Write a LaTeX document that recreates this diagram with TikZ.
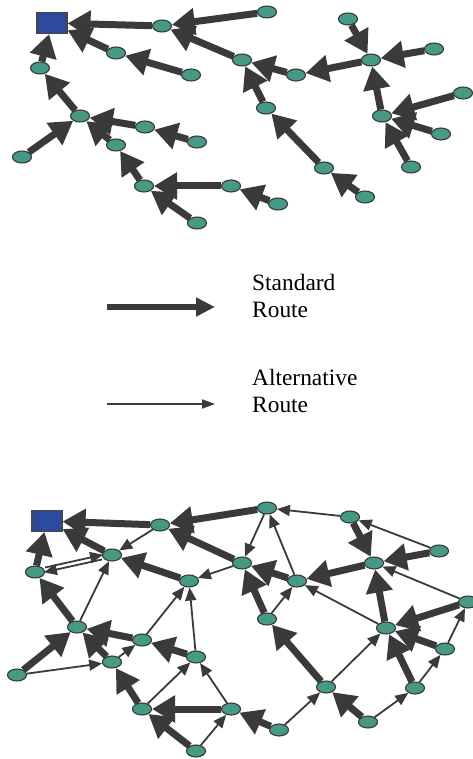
\documentclass[tikz,border=0pt]{standalone}
\usepackage{fontspec}
\setmainfont{Liberation Serif}
\usetikzlibrary{arrows.meta,positioning,shapes.geometric}
\definecolor{sensorteal}{RGB}{69,153,133}
\definecolor{sinkblue}{RGB}{46,74,158}
\definecolor{routegray}{RGB}{58,58,58}

\begin{document}
\begin{tikzpicture}[x=1pt, y=-1pt,
   sensor/.style={ellipse, draw=black!78, line width=1.1pt, fill=sensorteal,
                  minimum width=19pt, minimum height=12pt, inner sep=0pt},
   sink/.style={rectangle, draw=black!72, line width=1.1pt, fill=sinkblue,
                minimum width=30pt, minimum height=21pt, inner sep=0pt},
   std/.style={routegray, line width=7pt, -{Triangle[length=23pt,width=26pt]}},
   alt/.style={routegray, line width=1.8pt, -{Triangle[length=13pt,width=11pt]}},
   legendtxt/.style={align=left, anchor=west, inner sep=0pt,
                     font=\fontsize{23.4}{27.5}\selectfont}]
\useasboundingbox (0,0) rectangle (473,759);

% standard routes only
\node[sink] (p0) at (52,23) {};
\foreach \n/\x/\y in {p1/162/26, p2/267/12, p3/242/60, p4/116/53, p5/191/75,
    p6/40/68, p7/80/116, p8/22/157, p9/145/127, p10/197/142, p11/116/145,
    p12/144/186, p13/231/186, p14/197/223, p15/278/204, p16/296/75,
    p17/266/108, p18/324/168, p19/365/197, p20/348/19, p21/371/60,
    p22/434/49, p23/382/116, p24/463/93, p25/441/134, p26/411/167}
  \node[sensor] (\n) at (\x,\y) {};
\foreach \a/\b in {p1/p0, p2/p1, p3/p1, p4/p0, p5/p4, p6/p0, p7/p6, p8/p7,
    p9/p7, p10/p9, p11/p7, p12/p11, p13/p12, p14/p12, p15/p13, p16/p3,
    p17/p3, p18/p17, p19/p18, p21/p16, p20/p21, p22/p21, p23/p21,
    p24/p23, p25/p23, p26/p23}
  \draw[std] (\a) -- (\b);

% legend
\coordinate (k1) at (107,307);
\coordinate (k2) at (215,307);
\coordinate (k3) at (107,404);
\coordinate (k4) at (215,404);
\draw[routegray, line width=6pt, -{Triangle[length=19pt,width=18pt]}] (k1) -- (k2);
\draw[routegray, line width=1.8pt, -{Triangle[length=13pt,width=9pt]}] (k3) -- (k4);
\node[legendtxt] (t1) at (252,296) {Standard\\Route};
\node[legendtxt] (t2) at (252,391) {Alternative\\Route};

% standard and alternative routes
\node[sink] (q0) at (47,521) {};
\foreach \n/\x/\y in {q1/160/525, q2/112/555, q3/35/572, q4/189/581,
    q5/242/563, q6/77/627, q7/142/640, q8/112/662, q9/17/675, q10/196/657,
    q11/142/709, q12/231/709, q13/196/751, q14/267/508, q15/350/517,
    q16/439/551, q17/374/563, q18/297/581, q19/267/619, q20/468/602,
    q21/386/628, q22/445/649, q23/326/687, q24/415/688, q25/368/722,
    q26/279/730}
  \node[sensor] (\n) at (\x,\y) {};
\foreach \a/\b in {q1/q0, q14/q1, q5/q1, q2/q0, q3/q0, q4/q2, q6/q3, q7/q6,
    q8/q6, q9/q6, q10/q7, q11/q8, q12/q11, q13/q11, q15/q17, q16/q17,
    q17/q18, q18/q5, q19/q5, q21/q17, q20/q21, q22/q21, q24/q21, q23/q19,
    q25/q23, q26/q12}
  \draw[std] (\a) -- (\b);
\foreach \a/\b in {q1/q2, q5/q4, q6/q2, q9/q8, q7/q4, q10/q4, q8/q7, q11/q10,
    q12/q10, q13/q12, q15/q14, q14/q5, q18/q14, q16/q15, q19/q18, q20/q17,
    q21/q18, q22/q20, q24/q22, q23/q21, q25/q24, q26/q23}
  \draw[alt] (\a) -- (\b);
\draw[alt, transform canvas={shift={(0.6pt,2.4pt)}}] (q3) -- (q2);
\draw[alt, transform canvas={shift={(-0.6pt,-2.4pt)}}] (q2) -- (q3);
\end{tikzpicture}
\end{document}
